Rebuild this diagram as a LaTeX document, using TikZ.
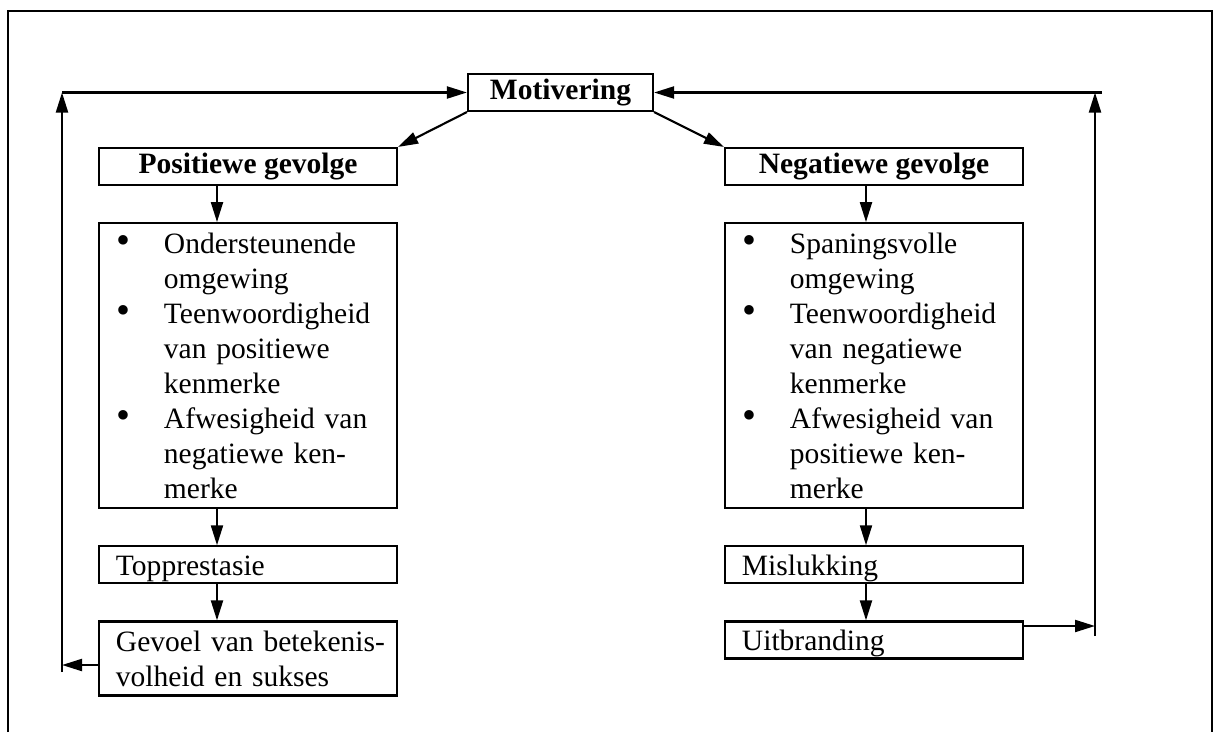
\documentclass[tikz,border=0pt]{standalone}
\usepackage{fontspec}
\setmainfont{Liberation Serif}
\usetikzlibrary{positioning, arrows.meta}
\hyphenpenalty=10000
\newcommand{\diafont}{\fontsize{21pt}{24.9pt}\selectfont}
\newcommand{\bitem}[1]{\makebox[1.175cm][l]{\scalebox{1.35}{\textbullet}}\mbox{#1}}
\newcommand{\bcont}[1]{\hspace*{1.175cm}\mbox{#1}}

\begin{document}
\begin{tikzpicture}[x=0.025cm, y=-0.025cm, node distance=0.9cm, font=\diafont, line width=1.5pt, >={Triangle[length=0.5cm, width=0.3cm]},
    kop/.style={rectangle, draw, font=\diafont\bfseries, minimum width=7.45cm, minimum height=0.925cm, inner sep=0pt},
    tekstbox/.style={rectangle, draw, align=left, text width=6.6cm, inner xsep=0.425cm, inner ysep=0pt, minimum height=0.925cm},
    enkel/.style={text height=0.6cm, text depth=0.075cm},
    lysbox/.style={rectangle, draw, align=left, text width=6.55cm, inner xsep=0.45cm, inner ysep=0pt, minimum height=7.125cm}]
    \useasboundingbox (0,0) rectangle (1213,732);
    \draw (8,732) -- (8,11) -- (1212,11) -- (1212,732);
    \node[kop, minimum width=4.625cm] (mot) at (560.5,92.5) {Motivering};
    \node[kop] (pos) at (248,166.5) {Positiewe gevolge};
    \node[kop] (neg) at (874,166.5) {Negatiewe gevolge};
    \node[lysbox, below=of pos] (poslys) {\bitem{Ondersteunende}\\ \bcont{omgewing}\\ \bitem{Teenwoordigheid}\\ \bcont{van positiewe}\\ \bcont{kenmerke}\\ \bitem{Afwesigheid van}\\ \bcont{negatiewe ken-}\\ \bcont{merke}};
    \node[tekstbox, enkel, below=of poslys] (top) {Topprestasie};
    \node[tekstbox, below=of top, minimum height=1.85cm] (gevoel) {\mbox{Gevoel van betekenis-}\\\mbox{volheid en sukses}};
    \node[lysbox, below=of neg] (neglys) {\bitem{Spaningsvolle}\\ \bcont{omgewing}\\ \bitem{Teenwoordigheid}\\ \bcont{van negatiewe}\\ \bcont{kenmerke}\\ \bitem{Afwesigheid van}\\ \bcont{positiewe ken-}\\ \bcont{merke}};
    \node[tekstbox, enkel, below=of neglys] (mis) {Mislukking};
    \node[tekstbox, enkel, below=of mis] (uit) {Uitbranding};
    \coordinate (lx) at (217,0);
    \coordinate (rx) at (866,0);
    \coordinate (lb) at (62,665);
    \coordinate (lbot) at (62,672);
    \coordinate (ltop) at (62,92.5);
    \coordinate (rb) at (1095,626);
    \coordinate (rbot) at (1095,636);
    \coordinate (rtop) at (1095,92.5);
    \coordinate (rend) at (1102,92.5);
    \draw[->] (mot.south west) -- (pos.north east);
    \draw[->] (mot.south east) -- (neg.north west);
    \draw[->] (pos.south -| lx) -- (poslys.north -| lx);
    \draw[->] (poslys.south -| lx) -- (top.north -| lx);
    \draw[->] (top.south -| lx) -- (gevoel.north -| lx);
    \draw[->] (neg.south -| rx) -- (neglys.north -| rx);
    \draw[->] (neglys.south -| rx) -- (mis.north -| rx);
    \draw[->] (mis.south -| rx) -- (uit.north -| rx);
    \draw[->] (gevoel.west |- lb) -- (lb);
    \draw[->] (lbot) -- (ltop);
    \draw[->] (ltop) -- (mot.west);
    \draw[->] (uit.east |- rb) -- (rb);
    \draw[->] (rbot) -- (rtop);
    \draw[->] (rend) -- (mot.east);
\end{tikzpicture}
\end{document}
